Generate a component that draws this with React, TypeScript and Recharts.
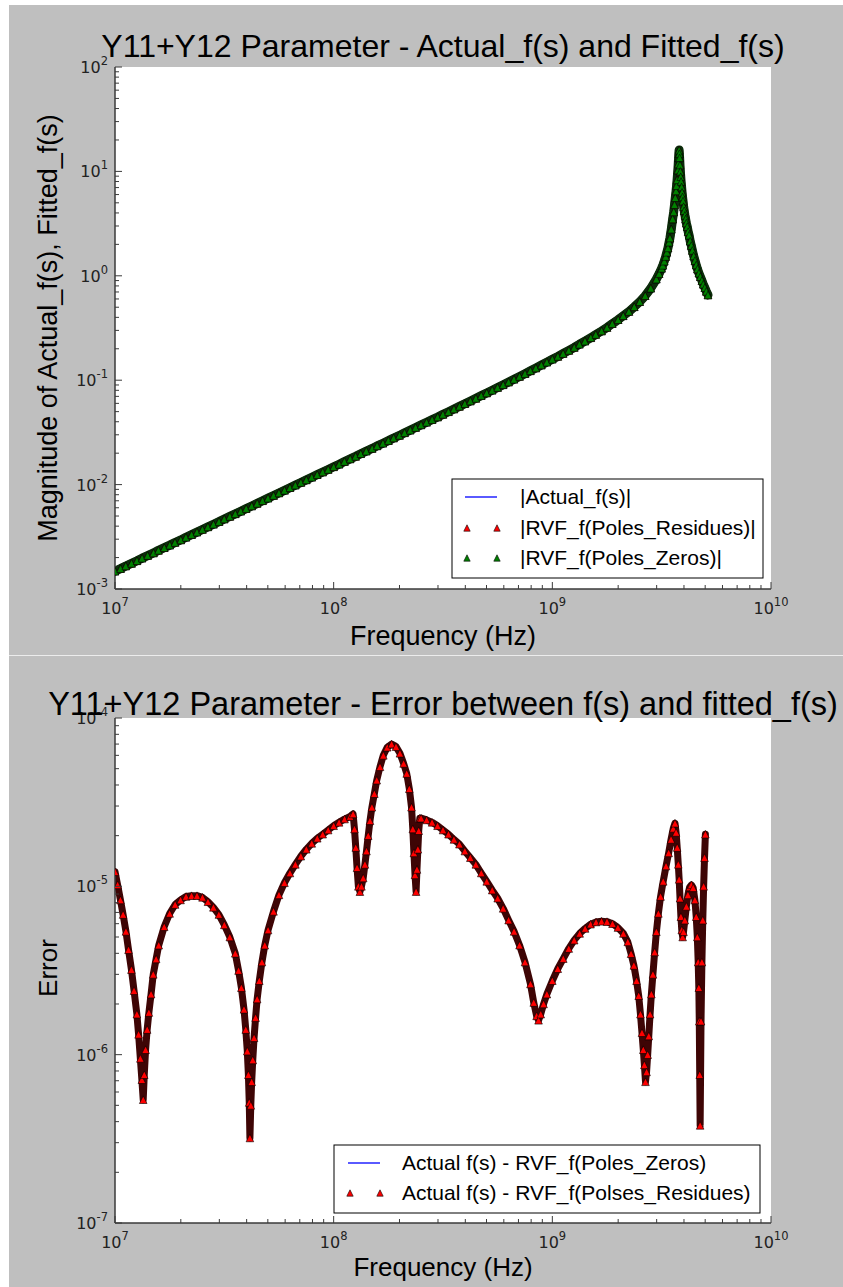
import React from 'react';
import { ComposedChart, Line, XAxis, YAxis, CartesianGrid } from 'recharts';

// ---------- data : top chart (|Y11+Y12|) ----------
const freqTop = [
  1e7, 1.06e7, 1.12e7, 1.19e7, 1.26e7, 1.33e7, 1.41e7, 1.5e7, 1.58e7, 1.68e7,
  1.78e7, 1.88e7, 2e7, 2.11e7, 2.24e7, 2.37e7, 2.51e7, 2.66e7, 2.82e7, 2.99e7,
  3.16e7, 3.35e7, 3.55e7, 3.76e7, 3.98e7, 4.22e7, 4.47e7, 4.73e7, 5.01e7, 5.31e7,
  5.62e7, 5.96e7, 6.31e7, 6.68e7, 7.08e7, 7.5e7, 7.94e7, 8.41e7, 8.91e7, 9.44e7,
  1e8, 1.06e8, 1.12e8, 1.19e8, 1.26e8, 1.33e8, 1.41e8, 1.5e8, 1.58e8, 1.68e8,
  1.78e8, 1.88e8, 2e8, 2.11e8, 2.24e8, 2.37e8, 2.51e8, 2.66e8, 2.82e8, 2.99e8,
  3.16e8, 3.35e8, 3.55e8, 3.76e8, 3.98e8, 4.22e8, 4.47e8, 4.73e8, 5.01e8, 5.31e8,
  5.62e8, 5.96e8, 6.31e8, 6.68e8, 7.08e8, 7.5e8, 7.94e8, 8.41e8, 8.91e8, 9.44e8,
  1e9, 1.06e9, 1.12e9, 1.19e9, 1.26e9, 1.33e9, 1.41e9, 1.5e9, 1.58e9, 1.68e9,
  1.78e9, 1.88e9, 2e9, 2.11e9, 2.24e9, 2.37e9, 2.51e9, 2.66e9, 2.82e9, 2.99e9,
  3.08e9, 3.16e9, 3.2e9, 3.25e9, 3.3e9, 3.34e9, 3.38e9, 3.42e9, 3.45e9, 3.5e9,
  3.55e9, 3.59e9, 3.62e9, 3.65e9, 3.68e9, 3.7e9, 3.72e9, 3.75e9, 3.765e9, 3.78e9,
  3.79e9, 3.8e9, 3.81e9, 3.82e9, 3.835e9, 3.85e9, 3.865e9, 3.88e9, 3.9e9, 3.92e9,
  3.94e9, 3.96e9, 3.985e9, 4.01e9, 4.04e9, 4.07e9, 4.1e9, 4.14e9, 4.18e9, 4.22e9,
  4.27e9, 4.32e9, 4.37e9, 4.43e9, 4.49e9, 4.55e9, 4.61e9, 4.68e9, 4.75e9, 4.83e9,
  4.9e9, 4.98e9, 5.06e9, 5.15e9,
];

const magActual = [
  1.48e-3, 1.567e-3, 1.661e-3, 1.76e-3, 1.863e-3, 1.974e-3, 2.091e-3, 2.214e-3, 2.346e-3, 2.485e-3,
  2.631e-3, 2.788e-3, 2.953e-3, 3.127e-3, 3.314e-3, 3.509e-3, 3.718e-3, 3.938e-3, 4.171e-3, 4.418e-3,
  4.68e-3, 4.958e-3, 5.251e-3, 5.562e-3, 5.892e-3, 6.241e-3, 6.611e-3, 7.003e-3, 7.418e-3, 7.857e-3,
  8.322e-3, 8.816e-3, 9.339e-3, 9.891e-3, 1.048e-2, 1.11e-2, 1.176e-2, 1.245e-2, 1.319e-2, 1.397e-2,
  1.481e-2, 1.568e-2, 1.662e-2, 1.762e-2, 1.865e-2, 1.976e-2, 2.094e-2, 2.218e-2, 2.35e-2, 2.49e-2,
  2.637e-2, 2.795e-2, 2.961e-2, 3.136e-2, 3.324e-2, 3.521e-2, 3.731e-2, 3.953e-2, 4.189e-2, 4.439e-2,
  4.705e-2, 4.986e-2, 5.297e-2, 5.617e-2, 5.957e-2, 6.319e-2, 6.704e-2, 7.113e-2, 7.549e-2, 8.013e-2,
  8.508e-2, 9.038e-2, 9.604e-2, 0.1021, 0.1086, 0.1155, 0.123, 0.1309, 0.1396, 0.1489,
  0.159, 0.169, 0.18, 0.193, 0.206, 0.221, 0.237, 0.255, 0.274, 0.296,
  0.32, 0.348, 0.38, 0.414, 0.455, 0.505, 0.565, 0.645, 0.76, 0.93,
  1.05, 1.18, 1.26, 1.38, 1.53, 1.68, 1.85, 2.1, 2.3, 2.8,
  3.5, 4.1, 4.8, 5.6, 6.5, 7.3, 8.3, 10.3, 11.8, 13.5,
  14.8, 16, 14.8, 13.5, 11.5, 10, 8.9, 8, 7.1, 6.3,
  5.7, 5.2, 4.6, 4.2, 3.8, 3.5, 3.2, 2.95, 2.65, 2.45,
  2.15, 1.95, 1.75, 1.55, 1.4, 1.27, 1.16, 1.06, 0.98, 0.9,
  0.83, 0.77, 0.71, 0.655,
];
// the two fitted curves lie exactly on the measured one
const magPolesResidues = magActual;
const magPolesZeros = magActual;

// ---------- data : bottom chart (error) ----------
const freqBottom = [
  1e7, 1.028e7, 1.059e7, 1.089e7, 1.122e7, 1.153e7, 1.189e7, 1.222e7, 1.259e7, 1.282e7,
  1.306e7, 1.327e7, 1.346e7, 1.361e7, 1.38e7, 1.403e7, 1.429e7, 1.462e7, 1.496e7, 1.542e7,
  1.585e7, 1.679e7, 1.778e7, 1.884e7, 1.995e7, 2.113e7, 2.239e7, 2.371e7, 2.512e7, 2.661e7,
  2.818e7, 2.985e7, 3.162e7, 3.35e7, 3.548e7, 3.673e7, 3.784e7, 3.89e7, 3.963e7, 4.027e7,
  4.074e7, 4.111e7, 4.14e7, 4.178e7, 4.217e7, 4.266e7, 4.325e7, 4.395e7, 4.467e7, 4.571e7,
  4.699e7, 4.842e7, 5.012e7, 5.309e7, 5.623e7, 5.957e7, 6.31e7, 6.683e7, 7.079e7, 7.499e7,
  7.943e7, 8.414e7, 8.913e7, 9.441e7, 1e8, 1.059e8, 1.122e8, 1.189e8, 1.227e8, 1.245e8,
  1.262e8, 1.279e8, 1.297e8, 1.318e8, 1.34e8, 1.365e8, 1.39e8, 1.413e8, 1.439e8, 1.466e8,
  1.496e8, 1.535e8, 1.574e8, 1.629e8, 1.687e8, 1.758e8, 1.841e8, 1.928e8, 2.009e8, 2.089e8,
  2.158e8, 2.218e8, 2.27e8, 2.301e8, 2.328e8, 2.355e8, 2.382e8, 2.404e8, 2.427e8, 2.449e8,
  2.477e8, 2.512e8, 2.661e8, 2.818e8, 2.985e8, 3.162e8, 3.35e8, 3.548e8, 3.758e8, 3.981e8,
  4.217e8, 4.467e8, 4.732e8, 5.012e8, 5.309e8, 5.623e8, 5.957e8, 6.31e8, 6.683e8, 7.079e8,
  7.499e8, 7.943e8, 8.222e8, 8.472e8, 8.65e8, 8.851e8, 9.12e8, 9.441e8, 1e9, 1.059e9,
  1.122e9, 1.189e9, 1.259e9, 1.334e9, 1.413e9, 1.496e9, 1.585e9, 1.679e9, 1.778e9, 1.884e9,
  1.995e9, 2.113e9, 2.213e9, 2.291e9, 2.36e9, 2.427e9, 2.483e9, 2.529e9, 2.57e9, 2.606e9,
  2.636e9, 2.667e9, 2.698e9, 2.729e9, 2.761e9, 2.799e9, 2.838e9, 2.884e9, 2.938e9, 2.992e9,
  3.055e9, 3.126e9, 3.214e9, 3.311e9, 3.404e9, 3.491e9, 3.573e9, 3.639e9, 3.681e9, 3.724e9,
  3.767e9, 3.802e9, 3.837e9, 3.873e9, 3.908e9, 3.945e9, 3.981e9, 4.036e9, 4.102e9, 4.169e9,
  4.246e9, 4.325e9, 4.406e9, 4.487e9, 4.55e9, 4.603e9, 4.645e9, 4.677e9, 4.699e9, 4.721e9,
  4.742e9, 4.786e9, 4.831e9, 4.875e9, 4.92e9, 4.966e9, 5.012e9,
];

const errPolesZeros = [
  1.22e-5, 1.02e-5, 8.3e-6, 6.8e-6, 5.4e-6, 4.2e-6, 3.2e-6, 2.4e-6, 1.74e-6, 1.32e-6,
  9.5e-7, 7.1e-7, 5.4e-7, 7.6e-7, 1.07e-6, 1.41e-6, 1.78e-6, 2.29e-6, 3.0e-6, 3.7e-6,
  4.47e-6, 5.75e-6, 6.9e-6, 7.8e-6, 8.3e-6, 8.7e-6, 8.8e-6, 8.8e-6, 8.6e-6, 8.1e-6,
  7.5e-6, 6.8e-6, 5.9e-6, 5.0e-6, 4.0e-6, 3.16e-6, 2.5e-6, 1.86e-6, 1.41e-6, 1.05e-6,
  7.6e-7, 5.2e-7, 3.2e-7, 5.0e-7, 6.9e-7, 9.3e-7, 1.26e-6, 1.66e-6, 2.14e-6, 2.75e-6,
  3.55e-6, 4.47e-6, 5.5e-6, 7.1e-6, 8.9e-6, 1.05e-5, 1.2e-5, 1.35e-5, 1.51e-5, 1.66e-5,
  1.8e-5, 1.93e-5, 2.04e-5, 2.16e-5, 2.29e-5, 2.4e-5, 2.51e-5, 2.6e-5, 2.69e-5, 2.19e-5,
  1.7e-5, 1.29e-5, 1.0e-5, 9.3e-6, 1.0e-5, 1.12e-5, 1.35e-5, 1.62e-5, 2.0e-5, 2.45e-5,
  2.95e-5, 3.55e-5, 4.27e-5, 5.13e-5, 6.0e-5, 6.7e-5, 7.0e-5, 6.76e-5, 6.17e-5, 5.37e-5,
  4.68e-5, 3.8e-5, 2.95e-5, 2.19e-5, 1.58e-5, 1.17e-5, 9.3e-6, 1.26e-5, 1.66e-5, 2.14e-5,
  2.54e-5, 2.54e-5, 2.48e-5, 2.4e-5, 2.29e-5, 2.16e-5, 2.04e-5, 1.9e-5, 1.78e-5, 1.62e-5,
  1.48e-5, 1.35e-5, 1.2e-5, 1.07e-5, 9.5e-6, 8.5e-6, 7.4e-6, 6.3e-6, 5.4e-6, 4.47e-6,
  3.55e-6, 2.63e-6, 2.04e-6, 1.7e-6, 1.6e-6, 1.74e-6, 2.0e-6, 2.29e-6, 2.75e-6, 3.24e-6,
  3.72e-6, 4.27e-6, 4.79e-6, 5.25e-6, 5.62e-6, 5.96e-6, 6.14e-6, 6.2e-6, 6.17e-6, 6.0e-6,
  5.69e-6, 5.25e-6, 4.68e-6, 3.98e-6, 3.39e-6, 2.75e-6, 2.24e-6, 1.74e-6, 1.35e-6, 1.07e-6,
  8.7e-7, 6.9e-7, 7.9e-7, 1.0e-6, 1.29e-6, 1.74e-6, 2.29e-6, 3.0e-6, 4.07e-6, 5.37e-6,
  6.9e-6, 8.7e-6, 1.07e-5, 1.32e-5, 1.58e-5, 1.9e-5, 2.21e-5, 2.37e-5, 2.09e-5, 1.7e-5,
  1.35e-5, 1.1e-5, 8.5e-6, 6.6e-6, 5.5e-6, 5.0e-6, 5.37e-6, 6.3e-6, 7.6e-6, 8.9e-6,
  9.9e-6, 1.02e-5, 9.8e-6, 8.3e-6, 6.6e-6, 5.0e-6, 3.55e-6, 2.5e-6, 1.58e-6, 7.6e-7,
  3.8e-7, 1.58e-6, 3.55e-6, 6.3e-6, 1.0e-5, 1.48e-5, 2.04e-5,
];
// both fitted models give the same error trace
const errPolesResidues = errPolesZeros;

// ---------- axes ----------
const xDecades = [1e7, 1e8, 1e9, 1e10];
const yDecadesTop = [1e-3, 1e-2, 1e-1, 1, 10, 100];
const yDecadesBottom = [1e-7, 1e-6, 1e-5, 1e-4];

const titleTop = 'Y11+Y12 Parameter - Actual_f(s) and Fitted_f(s)';
const titleBottom = 'Y11+Y12 Parameter - Error between f(s) and fitted_f(s)';
const xLabel = 'Frequency (Hz)';
const yLabelTop = 'Magnitude of Actual_f(s), Fitted_f(s)';
const yLabelBottom = 'Error';
const legendTop = ['|Actual_f(s)|', '|RVF_f(Poles_Residues)|', '|RVF_f(Poles_Zeros)|'];
const legendBottom = ['Actual f(s) - RVF_f(Poles_Zeros)', 'Actual f(s) - RVF_f(Polses_Residues)'];

const withMinor = (decades: number[]) => {
  const out: number[] = [];
  decades.forEach((d, i) => {
    out.push(d);
    if (i < decades.length - 1) for (let k = 2; k <= 9; k++) out.push(k * d);
  });
  return out;
};
const xTicks = withMinor(xDecades);
const yTicksTop = withMinor(yDecadesTop);
const yTicksBottom = withMinor(yDecadesBottom);

const topData = freqTop.map((f, i) => ({
  f,
  actual: magActual[i],
  res: magPolesResidues[i],
  zeros: magPolesZeros[i],
}));
const bottomData = freqBottom.map((f, i) => ({
  f,
  zeros: errPolesZeros[i],
  res: errPolesResidues[i],
}));

// ---------- styling ----------
const BG = '#bfbfbf';
const FRAME = '#3a3a3a';
const TICK_FONT = 'DejaVu Sans';
const TEXT_FONT = '"Liberation Sans", Arial, sans-serif';
const MAJ = 7;
const MIN = 4;

const isDecade = (v: number) => Math.abs(Math.log10(v) - Math.round(Math.log10(v))) < 1e-6;
const expOf = (v: number) => {
  const e = Math.round(Math.log10(v));
  return e < 0 ? '-' + Math.abs(e) : String(e);
};

const XTickBottom = (p: any) => {
  const { x, y, payload } = p;
  const v = payload.value;
  const major = isDecade(v);
  return (
    <g>
      <line x1={x} x2={x} y1={y} y2={y - (major ? MAJ : MIN)} stroke={FRAME} strokeWidth={1} />
      {major && (
        <text x={x} y={y + 25} textAnchor="middle" fontFamily={TICK_FONT} fontSize={16} fill="#222">
          10
          <tspan dy={-8} fontSize={11.5}>
            {expOf(v)}
          </tspan>
        </text>
      )}
    </g>
  );
};
const XTickTop = (p: any) => {
  const { x, y, payload } = p;
  const major = isDecade(payload.value);
  return <line x1={x} x2={x} y1={y} y2={y + (major ? MAJ : MIN)} stroke={FRAME} strokeWidth={1} />;
};
const YTickLeft = (p: any) => {
  const { x, y, payload } = p;
  const v = payload.value;
  const major = isDecade(v);
  return (
    <g>
      <line x1={x} x2={x + (major ? MAJ : MIN)} y1={y} y2={y} stroke={FRAME} strokeWidth={1} />
      {major && (
        <text x={x - 7} y={y + 6} textAnchor="end" fontFamily={TICK_FONT} fontSize={16} fill="#222">
          10
          <tspan dy={-8} fontSize={11.5}>
            {expOf(v)}
          </tspan>
        </text>
      )}
    </g>
  );
};
const YTickRight = (p: any) => {
  const { x, y, payload } = p;
  const major = isDecade(payload.value);
  return <line x1={x} x2={x - (major ? MAJ : MIN)} y1={y} y2={y} stroke={FRAME} strokeWidth={1} />;
};

const triDot = (fill: string) => (p: any) => {
  const { cx, cy, index } = p;
  if (cx == null || cy == null || isNaN(cx) || isNaN(cy)) return <g key={'n' + index} />;
  const h = 3.8;
  return (
    <path
      key={'t' + index}
      d={`M${cx},${cy - h}L${cx + h},${cy + h}L${cx - h},${cy + h}Z`}
      fill={fill}
      stroke="#000"
      strokeWidth={0.7}
      strokeOpacity={0.85}
    />
  );
};

const axisLine = { stroke: FRAME, strokeWidth: 1.5 };

const W = 834;

function renderAxes(yDomain: [number, number], yTicks: number[]) {
  return [
    <CartesianGrid key="g" xAxisId="b" yAxisId="l" horizontal={false} vertical={false} fill="#ffffff" />,
    <XAxis
      key="xb"
      xAxisId="b"
      dataKey="f"
      type="number"
      scale="log"
      domain={[1e7, 1e10]}
      allowDataOverflow
      ticks={xTicks}
      interval={0}
      tickSize={0}
      tickMargin={0}
      tickLine={false}
      axisLine={axisLine}
      tick={XTickBottom}
      height={60}
    />,
    <XAxis
      key="xt"
      xAxisId="t"
      orientation="top"
      dataKey="f"
      type="number"
      scale="log"
      domain={[1e7, 1e10]}
      allowDataOverflow
      ticks={xTicks}
      interval={0}
      tickSize={0}
      tickMargin={0}
      tickLine={false}
      axisLine={axisLine}
      tick={XTickTop}
      height={0}
    />,
    <YAxis
      key="yl"
      yAxisId="l"
      type="number"
      scale="log"
      domain={yDomain}
      allowDataOverflow
      ticks={yTicks}
      interval={0}
      tickSize={0}
      tickMargin={0}
      tickLine={false}
      axisLine={axisLine}
      tick={YTickLeft}
      width={106}
    />,
    <YAxis
      key="yr"
      yAxisId="r"
      orientation="right"
      type="number"
      scale="log"
      domain={yDomain}
      allowDataOverflow
      ticks={yTicks}
      interval={0}
      tickSize={0}
      tickMargin={0}
      tickLine={false}
      axisLine={axisLine}
      tick={YTickRight}
      width={0}
    />,
  ];
}

const LegendTri = ({ x, y, fill }: { x: number; y: number; fill: string }) => (
  <path d={`M${x},${y - 3.2}L${x + 3.2},${y + 3.2}L${x - 3.2},${y + 3.2}Z`} fill={fill} stroke="#000" strokeWidth={0.6} />
);

export default function App() {
  return (
    <div
      style={{
        position: 'absolute',
        left: 9,
        top: 5,
        width: W,
        height: 1282,
        background: BG,
        overflow: 'hidden',
      }}
    >
      <div style={{ position: 'absolute', left: 0, top: 0 }}>
        <ComposedChart width={W} height={650} data={topData} margin={{ top: 62, right: 72, bottom: 6, left: 0 }}>
          {renderAxes([1e-3, 1e2], yTicksTop)}
          <Line xAxisId="b" yAxisId="l" dataKey="actual" stroke="#0000ff" strokeWidth={1.3} dot={false} activeDot={false} isAnimationActive={false} />
          <Line xAxisId="b" yAxisId="l" dataKey="res" stroke="#3a0404" strokeWidth={8} strokeLinejoin="round" strokeLinecap="round" dot={triDot('#ff0000')} activeDot={false} isAnimationActive={false} />
          <Line xAxisId="b" yAxisId="l" dataKey="zeros" stroke="#0b2d0b" strokeWidth={9} strokeLinejoin="round" strokeLinecap="round" dot={triDot('#008000')} activeDot={false} isAnimationActive={false} />
        </ComposedChart>
      </div>
      <div style={{ position: 'absolute', left: 0, top: 650, width: W, height: 1, background: '#ececec' }} />
      <div style={{ position: 'absolute', left: 0, top: 651 }}>
        <ComposedChart width={W} height={631} data={bottomData} margin={{ top: 62, right: 72, bottom: 4, left: 0 }}>
          {renderAxes([1e-7, 1e-4], yTicksBottom)}
          <Line xAxisId="b" yAxisId="l" dataKey="zeros" stroke="#0000ff" strokeWidth={1.3} dot={false} activeDot={false} isAnimationActive={false} />
          <Line xAxisId="b" yAxisId="l" dataKey="res" stroke="#3e0505" strokeWidth={7} strokeLinejoin="round" strokeLinecap="round" dot={triDot('#ff0000')} activeDot={false} isAnimationActive={false} />
        </ComposedChart>
      </div>
      <svg
        width={W}
        height={1282}
        style={{ position: 'absolute', left: 0, top: 0, pointerEvents: 'none' }}
        fontFamily={TEXT_FONT}
      >
        <text x={434} y={52} textAnchor="middle" fontSize={32} fill="#000">
          {titleTop}
        </text>
        <text x={434} y={710} textAnchor="middle" fontSize={32.5} fill="#000">
          {titleBottom}
        </text>
        <text x={434} y={640} textAnchor="middle" fontSize={27} fill="#000">
          {xLabel}
        </text>
        <text x={434} y={1271} textAnchor="middle" fontSize={26} fill="#000">
          {xLabel}
        </text>
        <text x={48} y={323} textAnchor="middle" fontSize={27} fill="#000" transform="rotate(-90 48 323)">
          {yLabelTop}
        </text>
        <text x={48} y={963} textAnchor="middle" fontSize={26} fill="#000" transform="rotate(-90 48 963)">
          {yLabelBottom}
        </text>

        {/* legend top */}
        <rect x={443} y={474} width={311} height={99} fill="#fff" stroke="#000" strokeWidth={1} />
        <line x1={456} x2={488} y1={492} y2={492} stroke="#0000ff" strokeWidth={1.3} />
        <LegendTri x={458} y={523} fill="#ff0000" />
        <LegendTri x={488} y={523} fill="#ff0000" />
        <LegendTri x={458} y={553} fill="#008000" />
        <LegendTri x={488} y={553} fill="#008000" />
        <text x={511} y={499} fontSize={21} fill="#000">{legendTop[0]}</text>
        <text x={511} y={530} fontSize={21} fill="#000">{legendTop[1]}</text>
        <text x={511} y={560} fontSize={21} fill="#000">{legendTop[2]}</text>

        {/* legend bottom */}
        <rect x={325} y={1140} width={426} height={68} fill="#fff" stroke="#000" strokeWidth={1} />
        <line x1={339} x2={371} y1={1158} y2={1158} stroke="#0000ff" strokeWidth={1.3} />
        <LegendTri x={341} y={1188} fill="#ff0000" />
        <LegendTri x={371} y={1188} fill="#ff0000" />
        <text x={393} y={1165} fontSize={21} fill="#000">{legendBottom[0]}</text>
        <text x={393} y={1195} fontSize={21} fill="#000">{legendBottom[1]}</text>
      </svg>
    </div>
  );
}
